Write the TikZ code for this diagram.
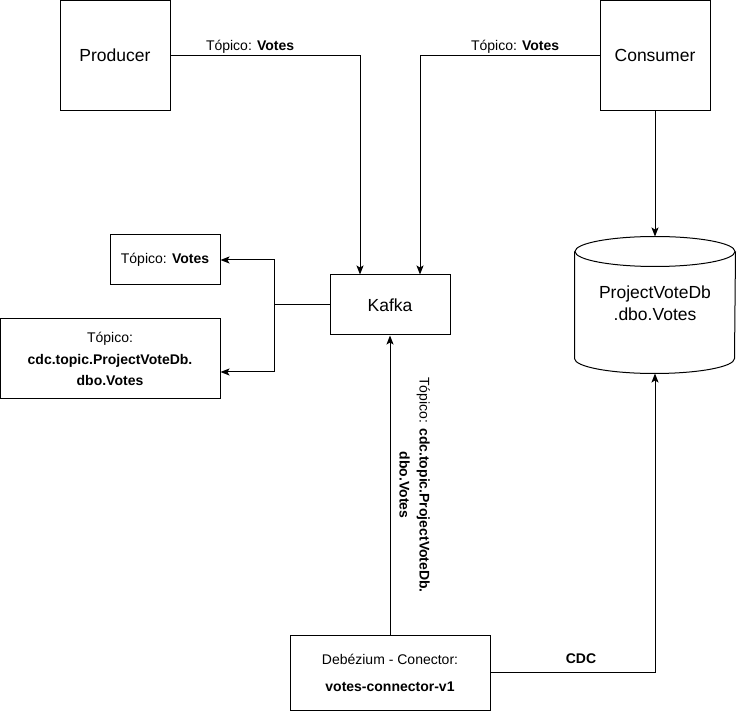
\documentclass[tikz,border=0pt]{standalone}
\usepackage{fontspec}
\setmainfont{Liberation Sans}
\usepackage{tikz}
\usetikzlibrary{positioning,calc,arrows.meta}

\begin{document}
\begin{tikzpicture}[
    x=1pt, y=-1pt,
    line width=1pt,
    >={Stealth[length=9pt, width=7pt, inset=2pt]},
    block/.style={rectangle, draw, align=center, inner sep=0pt, font=\fontsize{17.5}{22}\selectfont},
    topic/.style={rectangle, draw, align=center, inner sep=0pt, font=\fontsize{14}{21.5}\selectfont},
    lbl/.style={align=center, inner sep=2pt, font=\fontsize{14}{20}\selectfont},
    dbnode/.style={rectangle, minimum width=160pt, minimum height=136pt, inner sep=0pt, align=center, font=\fontsize{17.5}{22}\selectfont}
]
    \useasboundingbox (0,0) rectangle (737,711);

    \node[block, minimum width=110pt, minimum height=110pt] (prod) at (115,55.5) {Producer};
    \node[block, minimum width=110pt, minimum height=110pt] (cons) at (655,55.5) {Consumer};
    \node[block, minimum width=120pt, minimum height=60pt] (kafka) at (390,305) {Kafka};

    \node[topic, minimum width=110pt, minimum height=50pt] (vtopic) at (165,260) {Tópico: \textbf{Votes}};
    \node[topic, minimum width=220pt, minimum height=80pt] (ctopic) at (110,359) {Tópico:\\\textbf{cdc.topic.ProjectVoteDb.}\\\textbf{dbo.Votes}};
    \node[topic, minimum width=200pt, minimum height=75pt, font=\fontsize{14}{27}\selectfont] (dbz) at (390,672.5) {\raisebox{-4pt}{\begin{tabular}{@{}c@{}}Debézium - Conector:\\\textbf{votes-connector-v1}\end{tabular}}};

    % Database
    \node[dbnode] (db) at (655,305) {\raisebox{-11pt}{\begin{tabular}{@{}c@{}}ProjectVoteDb\\.dbo.Votes\end{tabular}}};
    \draw ([yshift=-15pt]db.north) ellipse [x radius=80, y radius=15];
    \draw ([yshift=-15pt]db.north west) -- ([yshift=15pt]db.south west)
        arc [start angle=180, end angle=0, x radius=80, y radius=15]
        -- ([yshift=-15pt]db.north east);

    % Producer and Consumer into Kafka
    \coordinate (pin) at ($(kafka.north)+(-30,0)$);
    \coordinate (cin) at ($(kafka.north)+(30,0)$);
    \draw[->] (prod.east) -- node[lbl, above, pos=0.42] {Tópico: \textbf{Votes}} (prod.east -| pin) -- (pin);
    \draw[->] (cons.west) -- node[lbl, above, pos=0.47] {Tópico: \textbf{Votes}} (cons.west -| cin) -- (cin);
    \draw[->] (cons.south) -- (db.north);

    % Kafka out to topics
    \coordinate (fork) at ($(kafka.west)+(-55,0)$);
    \draw (kafka.west) -- (fork);
    \draw[->] (fork) |- (vtopic.east);
    \draw[->] (fork) |- ([yshift=-13pt]ctopic.east);

    % Connector
    \draw[->] (dbz.north) -- node[lbl, midway, rotate=-90, anchor=south, inner ysep=9pt] {Tópico: \textbf{cdc.topic.ProjectVoteDb.}\\\textbf{dbo.Votes}} (kafka.south);
    \draw[->] (dbz.east) -- node[lbl, above=6pt, pos=0.55] {\textbf{CDC}} (dbz.east -| db.south) -- (db.south);

\end{tikzpicture}
\end{document}
